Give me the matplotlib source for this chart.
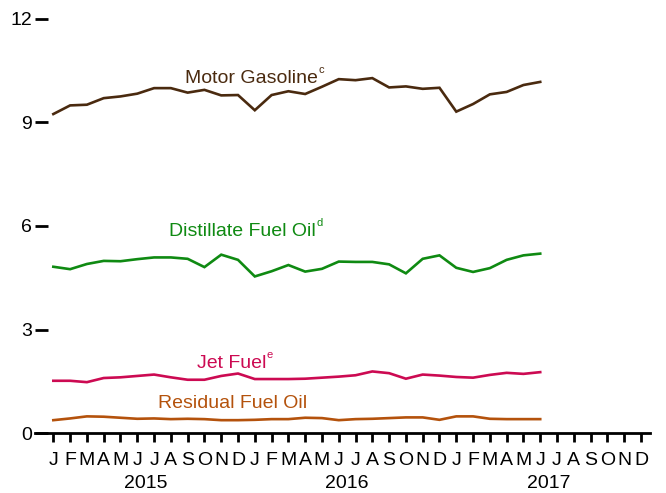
import matplotlib
matplotlib.use("Agg")
import matplotlib.pyplot as plt

plt.rcParams['font.family'] = ['Liberation Sans', 'DejaVu Sans']

months = ['J', 'F', 'M', 'A', 'M', 'J', 'J', 'A', 'S', 'O', 'N', 'D'] * 3
years = ['2015', '2016', '2017']

gasoline = [9.24, 9.49, 9.51, 9.70, 9.75, 9.83, 9.99, 9.99, 9.86, 9.94, 9.78, 9.79,
            9.35, 9.79, 9.90, 9.82, 10.03, 10.25, 10.22, 10.28, 10.01, 10.04, 9.97, 10.00,
            9.31, 9.53, 9.81, 9.88, 10.08, 10.17]
distillate = [4.82, 4.75, 4.90, 4.99, 4.98, 5.04, 5.09, 5.09, 5.05, 4.81, 5.17, 5.02,
              4.54, 4.69, 4.87, 4.68, 4.76, 4.97, 4.96, 4.96, 4.89, 4.63, 5.05, 5.15,
              4.79, 4.67, 4.78, 5.02, 5.15, 5.20]
jet_fuel = [1.52, 1.52, 1.48, 1.60, 1.62, 1.66, 1.70, 1.62, 1.55, 1.55, 1.66, 1.73,
            1.57, 1.57, 1.57, 1.58, 1.61, 1.64, 1.68, 1.79, 1.74, 1.58, 1.70, 1.67,
            1.63, 1.61, 1.69, 1.75, 1.72, 1.77]
residual = [0.38, 0.43, 0.49, 0.48, 0.45, 0.42, 0.43, 0.41, 0.42, 0.41, 0.38, 0.38,
            0.39, 0.41, 0.41, 0.45, 0.44, 0.38, 0.41, 0.42, 0.44, 0.46, 0.46, 0.39,
            0.49, 0.49, 0.42, 0.41, 0.41, 0.41]

series = [
    (gasoline, '#4a2a0f', 'Motor Gasoline', 'c', 7.84, 10.14),
    (distillate, '#0f8a12', 'Distillate Fuel Oil', 'd', 6.89, 5.72),
    (jet_fuel, '#cc0a52', 'Jet Fuel', 'e', 8.55, 1.89),
    (residual, '#b4520c', 'Residual Fuel Oil', '', 6.24, 0.74),
]

fig = plt.figure(figsize=(6.66, 4.93), dpi=100)
ax = fig.add_axes([0.0526, 0.1211, 0.9234, 0.8410])

for values, color, name, sup, lx, ly in series:
    ax.plot(range(len(values)), values, color=color, lw=1.9, solid_joinstyle='miter')
    t = ax.text(lx, ly, name, color=color, fontsize=14, ha='left', va='baseline')
    if sup:
        ax.annotate(sup, xy=(1.0, 0.8), xycoords=t, xytext=(0.3, 0),
                    textcoords='offset points', ha='left', va='baseline',
                    fontsize=8, color=color)

ax.set_xlim(-1.09, 35.54)
ax.set_ylim(0, 12)
ax.set_yticks([0, 3, 6, 9, 12])
ax.set_xticks(range(len(months)))
ax.set_xticklabels(months)

for s in ['top', 'right', 'left']:
    ax.spines[s].set_visible(False)
ax.spines['bottom'].set_linewidth(2)

ax.tick_params(axis='y', direction='in', length=9, width=2, pad=2, labelsize=14)
ax.tick_params(axis='x', direction='out', length=6.5, width=2, pad=7, labelsize=14)

for i, yr in enumerate(years):
    ax.text(5.5 + 12 * i, -0.12, yr, transform=ax.get_xaxis_transform(),
            ha='center', va='center', fontsize=14)

fig.savefig('out.png', dpi=100)
